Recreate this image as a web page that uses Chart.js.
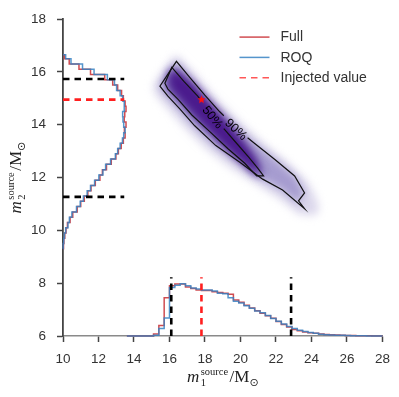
<!DOCTYPE html>
<html>
<head>
<meta charset="utf-8">
<script src="https://cdn.jsdelivr.net/npm/chart.js@4.4.1/dist/chart.umd.min.js"></script>
<style>
html,body{margin:0;padding:0;background:#ffffff;overflow:hidden;}
canvas{display:block;}
</style>
</head>
<body>
<canvas id="chart" width="399" height="397" style="width:399px;height:397px"></canvas>
<script>
// ---------------- data ----------------
const xTicks = [10, 12, 14, 16, 18, 20, 22, 24, 26, 28];
const yTicks = [6, 8, 10, 12, 14, 16, 18];
const seriesNames = ['Full', 'ROQ', 'Injected value'];

// m1 marginal histogram (drawn along the bottom, heights in m2-axis units)
const m1Edges = [13.6,13.9,14.2,14.5,14.8,15.1,15.4,15.7,16.0,16.3,16.6,16.9,17.2,17.5,17.8,18.1,18.4,18.7,19.0,19.3,19.6,19.9,20.2,20.5,20.8,21.1,21.4,21.7,22.0,22.3,22.6,22.9,23.2,23.5,23.8,24.1,24.4,24.7,25.0,25.3,25.6,25.9,26.2,26.5,26.8,27.1,27.4,27.7,28.0];
const m1HistFull = [6.0,6.0,6.0,6.0,6.0,6.08,6.40,7.45,7.90,7.97,7.97,7.86,7.80,7.74,7.72,7.72,7.68,7.65,7.62,7.58,7.36,7.28,7.16,7.06,6.96,6.86,6.77,6.67,6.55,6.44,6.34,6.25,6.20,6.15,6.12,6.10,6.08,6.06,6.05,6.04,6.03,6.02,6.02,6.01,6.01,6.01,6.00,6.00];
const m1HistROQ  = [6.0,6.0,6.0,6.0,6.0,6.03,6.28,6.68,7.84,7.92,7.98,7.90,7.82,7.78,7.74,7.74,7.70,7.62,7.60,7.45,7.32,7.25,7.15,7.05,6.95,6.88,6.78,6.66,6.56,6.45,6.36,6.28,6.22,6.17,6.13,6.10,6.07,6.05,6.04,6.03,6.03,6.02,6.01,6.01,6.01,6.00,6.00,6.00];

// m2 marginal histogram (drawn along the left, lengths in m1-axis units)
const m2Edges = [9.3,9.5,9.7,9.9,10.1,10.3,10.5,10.7,10.9,11.1,11.3,11.5,11.7,11.9,12.1,12.3,12.5,12.7,12.9,13.1,13.3,13.5,13.7,13.9,14.1,14.3,14.5,14.7,14.9,15.1,15.3,15.5,15.7,15.9,16.1,16.3,16.5,16.65];
const m2HistFull = [10.03,10.05,10.10,10.17,10.25,10.40,10.55,10.80,11.00,11.20,11.40,11.58,11.82,12.08,12.22,12.45,12.72,12.98,13.12,13.28,13.40,13.50,13.46,13.55,13.45,13.48,13.55,13.50,13.40,13.30,13.08,12.80,12.35,11.55,10.90,10.35,10.08];
const m2HistROQ  = [10.01,10.04,10.08,10.15,10.28,10.36,10.50,10.76,10.97,11.15,11.36,11.55,11.78,12.02,12.25,12.40,12.68,12.95,13.08,13.22,13.35,13.42,13.50,13.42,13.38,13.36,13.45,13.45,13.36,13.22,13.02,12.90,12.50,11.75,11.10,10.45,10.15];

// credible-interval bounds and injected value
const m1Quantiles = [16.1, 22.85];
const m2Quantiles = [11.27, 15.73];
const injectedM1 = 17.8;
const injectedM2 = 14.95;
const m1MarginTop = 8.22;
const m2MarginRight = 13.45;

// 2-D posterior: contour lines (open at the inline label) and density layers
const contour90M1 = [20.40,20.80,21.92,23.05,23.61,23.27,23.61,22.37,21.25,19.96,18.61,17.42,16.58,15.91,15.46,16.39,17.14,17.99,18.83,19.06];
const contour90M2 = [13.51,13.29,12.69,12.06,11.42,11.12,10.82,11.53,11.94,12.58,13.21,13.96,14.60,15.08,15.46,16.40,15.79,15.12,14.49,14.34];
const contour50M1 = [19.06,19.79,20.46,20.97,21.30,20.91,20.24,19.28,18.27,17.26,16.47,15.91,15.74,16.13,16.81,17.59,17.76];
const contour50M2 = [13.85,13.29,12.77,12.36,12.06,12.06,12.54,13.10,13.74,14.37,14.97,15.35,15.57,16.17,15.64,15.08,14.93];
const haloM1 = [16.36,17.42,18.55,19.96,21.36,22.77,23.78,24.23,24.45,24.23,23.33,22.20,20.80,19.39,17.99,16.86,15.91,15.23,15.06,15.62];
const haloM2 = [16.65,15.94,15.05,14.11,13.25,12.50,11.83,11.27,10.82,10.56,10.60,11.20,11.79,12.39,13.14,13.89,14.60,15.12,15.46,16.06];
const coreM1 = [16.36,17.26,18.27,19.28,20.24,20.85,21.19,20.74,19.84,18.83,17.82,16.81,16.07,15.96];
const coreM2 = [16.09,15.61,14.86,14.11,13.36,12.77,12.21,12.21,12.73,13.36,14.07,14.82,15.38,15.87];
const contourLabels = ['90%', '50%'];

// ---------------- helpers ----------------
const X_MIN = xTicks[0], X_MAX = xTicks[xTicks.length - 1];
const Y_MIN = yTicks[0], Y_MAX = yTicks[yTicks.length - 1];
const pts = (xs, ys) => xs.map((x, i) => ({x: x, y: ys[i]}));
function histAlongX(edges, vals, base) {
  const p = [{x: edges[0], y: base}];
  vals.forEach((v, i) => p.push({x: edges[i], y: v}));
  p.push({x: edges[edges.length - 1], y: vals[vals.length - 1]});
  p.push({x: edges[edges.length - 1], y: base});
  return p;
}
function histAlongY(edges, vals, base) {
  const p = [{x: base, y: edges[0]}];
  vals.forEach((v, i) => p.push({x: v, y: edges[i]}));
  p.push({x: vals[vals.length - 1], y: edges[edges.length - 1]});
  p.push({x: base, y: edges[edges.length - 1]});
  return p;
}
function starImage(color, r) {
  const c = document.createElement('canvas');
  c.width = c.height = Math.ceil(2 * r + 2);
  const g = c.getContext('2d');
  g.fillStyle = color;
  g.beginPath();
  for (let i = 0; i < 10; i++) {
    const a = -Math.PI / 2 + i * Math.PI / 5;
    const rr = (i % 2) ? r * 0.45 : r;
    g.lineTo(c.width / 2 + rr * Math.cos(a), c.height / 2 + rr * Math.sin(a));
  }
  g.closePath();
  g.fill();
  return c;
}

const RED = 'rgba(200,45,50,0.85)';
const BLUE = 'rgba(55,130,195,0.85)';
const INJ = '#ff1f1f';

const datasets = [];
function add(ds) {
  datasets.push(Object.assign({
    type: 'line', pointRadius: 0, pointHoverRadius: 0, tension: 0,
    fill: false, borderWidth: 1.5, spanGaps: true
  }, ds));
}

// density layers (blurred)
add({data: pts(haloM1, haloM2), fill: 'shape', backgroundColor: '#dcd8ec', borderColor: 'transparent', borderWidth: 0, order: 100});
add({data: pts(contour90M1, contour90M2), fill: 'shape', backgroundColor: '#a59bcf', borderColor: 'transparent', borderWidth: 0, order: 99});
add({data: pts(contour50M1, contour50M2), fill: 'shape', backgroundColor: '#6c56ad', borderColor: 'transparent', borderWidth: 0, order: 98});
add({data: pts(coreM1, coreM2), fill: 'shape', backgroundColor: '#4a1a8c', borderColor: 'transparent', borderWidth: 0, order: 97, endBlur: true});

// contour lines
add({data: pts(contour90M1, contour90M2), borderColor: '#111', borderWidth: 1.2, order: 60, contourLabel: contourLabels[0]});
add({data: pts(contour50M1, contour50M2), borderColor: '#111', borderWidth: 1.2, order: 59, contourLabel: contourLabels[1]});

// marginal histograms
add({label: seriesNames[0], legendRank: 0, data: histAlongX(m1Edges, m1HistFull, Y_MIN), borderColor: RED, stepped: 'before', order: 45, clip: false});
add({label: seriesNames[1], legendRank: 1, data: histAlongX(m1Edges, m1HistROQ, Y_MIN), borderColor: BLUE, stepped: 'before', order: 44, clip: false});
add({data: histAlongY(m2Edges, m2HistFull, X_MIN), borderColor: RED, stepped: 'after', order: 43, clip: false});
add({data: histAlongY(m2Edges, m2HistROQ, X_MIN), borderColor: BLUE, stepped: 'after', order: 42, clip: false});

// quantile and injected dashed lines
m1Quantiles.forEach(q => add({data: [{x: q, y: Y_MIN}, {x: q, y: m1MarginTop}], borderColor: '#000', borderWidth: 2.6, borderDash: [6.5, 5], order: 20, clip: false}));
m2Quantiles.forEach(q => add({data: [{x: X_MIN, y: q}, {x: m2MarginRight, y: q}], borderColor: '#000', borderWidth: 2.6, borderDash: [6.5, 5], order: 20, clip: false}));
add({label: seriesNames[2], legendRank: 2, data: [{x: injectedM1, y: Y_MIN}, {x: injectedM1, y: m1MarginTop}], borderColor: INJ, borderWidth: 2.6, borderDash: [6.5, 5], order: 19, clip: false});
add({data: [{x: X_MIN, y: injectedM2}, {x: m2MarginRight, y: injectedM2}], borderColor: INJ, borderWidth: 2.6, borderDash: [6.5, 5], order: 19, clip: false});

// injected point
add({data: [{x: injectedM1, y: injectedM2}], showLine: false, pointRadius: 4, pointStyle: starImage('#ff1010', 4.2), borderColor: INJ, backgroundColor: INJ, order: 1});

// ---------------- drawing extras ----------------
function drawMathTitle(ctx, cx, cy, rot, sub) {
  const mainF = 'italic 17px "Liberation Serif"';
  const romF = '17px "Liberation Serif"';
  const scrF = '10.5px "Liberation Serif"';
  const sunF = '11px "DejaVu Sans"';
  ctx.save();
  ctx.translate(cx, cy);
  ctx.rotate(rot);
  ctx.textAlign = 'left';
  ctx.textBaseline = 'alphabetic';
  ctx.fillStyle = '#222';
  ctx.font = mainF; const wm = ctx.measureText('m').width;
  ctx.font = scrF; const ws = Math.max(ctx.measureText('source').width, ctx.measureText(sub).width);
  ctx.font = romF; const wM = ctx.measureText('/M').width;
  ctx.font = sunF; const wo = ctx.measureText('\u2299').width;
  const gap = 1.5;
  const total = wm + gap + ws + gap + wM + wo;
  let x = -total / 2;
  ctx.font = mainF; ctx.fillText('m', x, 0); x += wm + gap;
  ctx.font = scrF; ctx.fillText('source', x, -7); ctx.fillText(sub, x, 4); x += ws + gap;
  ctx.font = romF; ctx.fillText('/M', x, 0); x += wM;
  ctx.font = sunF; ctx.fillText('\u2299', x, 3.5);
  ctx.restore();
}

const extras = {
  id: 'extras',
  beforeDatasetsDraw(chart) { chart.ctx.filter = 'blur(4px)'; },
  afterDatasetDraw(chart, args) {
    if (chart.data.datasets[args.index].endBlur) chart.ctx.filter = 'none';
  },
  afterDatasetsDraw(chart) {
    const ctx = chart.ctx;
    ctx.filter = 'none';
    const xs = chart.scales.x, ys = chart.scales.y;
    chart.data.datasets.forEach(ds => {
      if (!ds.contourLabel) return;
      const d = ds.data, a = d[d.length - 1], b = d[0];
      const ax = xs.getPixelForValue(a.x), ay = ys.getPixelForValue(a.y);
      const bx = xs.getPixelForValue(b.x), by = ys.getPixelForValue(b.y);
      ctx.save();
      ctx.translate((ax + bx) / 2, (ay + by) / 2 + 3);
      ctx.rotate(Math.atan2(by - ay, bx - ax));
      ctx.font = '12.5px "Liberation Sans"';
      ctx.fillStyle = '#000';
      ctx.textAlign = 'center';
      ctx.textBaseline = 'middle';
      ctx.fillText(ds.contourLabel, 0, 0);
      ctx.restore();
    });
  },
  afterDraw(chart) {
    const ctx = chart.ctx, area = chart.chartArea;
    // legend
    const items = chart.data.datasets.filter(d => d.legendRank !== undefined)
      .sort((a, b) => a.legendRank - b.legendRank);
    const lx = area.right - 143, ly = area.top + 18;
    items.forEach((d, i) => {
      const y = ly + i * 20.3;
      ctx.save();
      ctx.strokeStyle = d.borderColor;
      ctx.globalAlpha = d.borderDash ? 0.75 : 1;
      ctx.lineWidth = 1.5;
      ctx.setLineDash(d.borderDash ? [6.5, 5] : []);
      ctx.beginPath(); ctx.moveTo(lx, y); ctx.lineTo(lx + 30, y); ctx.stroke();
      ctx.restore();
      ctx.save();
      ctx.fillStyle = '#333';
      ctx.font = '14px "Liberation Sans"';
      ctx.textBaseline = 'middle';
      ctx.textAlign = 'left';
      ctx.fillText(d.label, lx + 41, y + 0.5);
      ctx.restore();
    });
    // axis titles
    drawMathTitle(ctx, (area.left + area.right) / 2, 382, 0, '1');
    drawMathTitle(ctx, 21, (area.top + area.bottom) / 2, -Math.PI / 2, '2');
  }
};

const tickFont = {family: '"Liberation Sans", Arial, sans-serif', size: 13.5};
new Chart(document.getElementById('chart'), {
  type: 'line',
  data: {datasets: datasets},
  plugins: [extras],
  options: {
    responsive: false,
    animation: false,
    devicePixelRatio: 1,
    events: [],
    layout: {padding: {top: 15, right: 16, bottom: 0, left: 0}},
    plugins: {legend: {display: false}, tooltip: {enabled: false}},
    scales: {
      x: {
        type: 'linear', min: X_MIN, max: X_MAX,
        afterBuildTicks: s => { s.ticks = xTicks.map(v => ({value: v})); },
        afterFit: s => { s.height = 61; },
        ticks: {font: tickFont, color: '#333', padding: 9, maxRotation: 0, autoSkip: false},
        grid: {display: true, drawOnChartArea: false, drawTicks: true, tickLength: 6, tickWidth: 1.5, tickColor: '#444'},
        border: {display: true, color: '#8a8a8a', width: 1.5}
      },
      y: {
        type: 'linear', min: Y_MIN, max: Y_MAX,
        afterBuildTicks: s => { s.ticks = yTicks.map(v => ({value: v})); },
        afterFit: s => { s.width = 63; },
        ticks: {font: tickFont, color: '#333', padding: 11, autoSkip: false},
        grid: {display: true, drawOnChartArea: false, drawTicks: true, tickLength: 6, tickWidth: 1.5, tickColor: '#444'},
        border: {display: true, color: '#444', width: 1.8}
      }
    }
  }
});
</script>
</body>
</html>
